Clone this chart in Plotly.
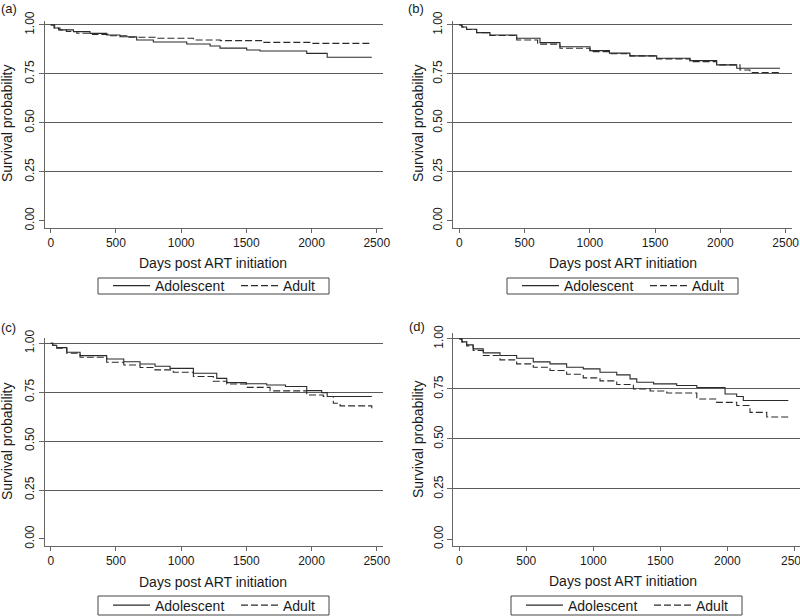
import plotly.graph_objects as go

W, H = 800, 616

# ---------------- data ----------------
tick_days = [0, 500, 1000, 1500, 2000, 2500]
tick_surv = [0.0, 0.25, 0.5, 0.75, 1.0]
tick_surv_text = ["0.00", "0.25", "0.50", "0.75", "1.00"]
grid_surv = [0.25, 0.5, 0.75, 1.0]
series_names = ["Adolescent", "Adult"]
panel_labels = ["(a)", "(b)", "(c)", "(d)"]

a_adol_days = [0, 30, 71, 174, 301, 429, 531, 659, 787, 1043, 1222, 1298, 1503, 1605, 1963, 2120, 2462]
a_adol_surv = [1.0, 0.985, 0.975, 0.966, 0.957, 0.949, 0.94, 0.923, 0.913, 0.903, 0.893, 0.882, 0.872, 0.867, 0.855, 0.835, 0.835]
a_adult_days = [0, 25, 60, 120, 200, 320, 450, 583, 800, 1094, 1300, 1630, 2000, 2462]
a_adult_surv = [1.0, 0.985, 0.975, 0.967, 0.958, 0.952, 0.945, 0.937, 0.932, 0.923, 0.92, 0.911, 0.906, 0.906]

b_adol_days = [0, 20, 56, 133, 235, 440, 618, 771, 1001, 1150, 1307, 1512, 1767, 1971, 2125, 2456]
b_adol_surv = [1.0, 0.99, 0.978, 0.961, 0.949, 0.932, 0.91, 0.889, 0.869, 0.856, 0.842, 0.83, 0.818, 0.796, 0.779, 0.779]
b_adult_days = [0, 20, 56, 133, 235, 440, 600, 771, 1001, 1150, 1307, 1512, 1767, 1971, 2150, 2226, 2443]
b_adult_surv = [1.0, 0.99, 0.977, 0.96, 0.946, 0.923, 0.902, 0.881, 0.864, 0.853, 0.842, 0.827, 0.813, 0.796, 0.77, 0.757, 0.747]

c_adol_days = [0, 15, 46, 123, 225, 429, 560, 685, 800, 915, 1094, 1273, 1350, 1500, 1656, 1800, 1963, 2078, 2120, 2462]
c_adol_surv = [1.0, 0.99, 0.978, 0.954, 0.937, 0.92, 0.906, 0.894, 0.883, 0.872, 0.847, 0.821, 0.799, 0.793, 0.787, 0.779, 0.758, 0.748, 0.728, 0.728]
c_adult_days = [0, 15, 46, 123, 225, 429, 560, 685, 800, 940, 1094, 1247, 1350, 1500, 1682, 1963, 2090, 2167, 2219, 2462]
c_adult_surv = [1.0, 0.99, 0.975, 0.949, 0.929, 0.903, 0.889, 0.876, 0.864, 0.852, 0.83, 0.806, 0.792, 0.775, 0.757, 0.736, 0.728, 0.694, 0.68, 0.668]

d_adol_days = [0, 20, 55, 104, 179, 304, 428, 552, 677, 801, 925, 1050, 1175, 1274, 1324, 1450, 1622, 1772, 1983, 2070, 2119, 2455]
d_adol_surv = [1.0, 0.985, 0.97, 0.95, 0.93, 0.917, 0.903, 0.885, 0.875, 0.858, 0.85, 0.833, 0.82, 0.80, 0.783, 0.775, 0.767, 0.757, 0.725, 0.712, 0.692, 0.692]
d_adult_days = [0, 20, 55, 104, 179, 304, 428, 552, 677, 801, 925, 1050, 1175, 1299, 1424, 1548, 1772, 1921, 2070, 2169, 2294, 2455]
d_adult_surv = [1.0, 0.985, 0.965, 0.942, 0.917, 0.895, 0.875, 0.858, 0.842, 0.823, 0.805, 0.79, 0.772, 0.75, 0.74, 0.73, 0.70, 0.683, 0.667, 0.633, 0.61, 0.608]

# ---------------- layout geometry (pixels) ----------------
FONT = "Liberation Sans, Arial, sans-serif"
LINE_COL = "#2b2b2b"
GRID_COL = "#5a5a5a"
AXIS_COL = "#666666"
TEXT_COL = "#1a1a1a"

panels = [
    dict(adol=(a_adol_days, a_adol_surv), adult=(a_adult_days, a_adult_surv),
         xpx=(45, 383), ypx=(21, 227.7), xr=(-44, 2548), yr=(-0.0358, 1.0204),
         lab=(8.5, 8), ytitle=(7, 123), xtitle=(213.3, 263), box=(98, 278, 329, 294)),
    dict(adol=(b_adol_days, b_adol_surv), adult=(b_adult_days, b_adult_surv),
         xpx=(453, 791.7), ypx=(21, 227.7), xr=(-48, 2546), yr=(-0.0358, 1.0204),
         lab=(415.5, 8), ytitle=(418, 123), xtitle=(622.7, 263), box=(507, 278, 738, 294)),
    dict(adol=(c_adol_days, c_adol_surv), adult=(c_adult_days, c_adult_surv),
         xpx=(45, 383), ypx=(337.7, 546), xr=(-44, 2548), yr=(-0.0358, 1.0286),
         lab=(8, 327), ytitle=(7, 441), xtitle=(213.3, 581.7), box=(98, 596, 329, 615)),
    dict(adol=(d_adol_days, d_adol_surv), adult=(d_adult_days, d_adult_surv),
         xpx=(453.3, 800), ypx=(333.3, 546), xr=(-44.5, 2542), yr=(-0.035, 1.028),
         lab=(416.5, 326), ytitle=(418, 439), xtitle=(622.7, 580.7), box=(511, 596, 742, 615)),
]

fig = go.Figure()
layout = dict(
    width=W, height=H, margin=dict(l=0, r=0, t=0, b=0, autoexpand=False),
    paper_bgcolor="white", plot_bgcolor="white",
    font=dict(family=FONT, size=12, color=TEXT_COL),
    annotations=[], shapes=[],
)

for i, p in enumerate(panels):
    n = i + 1
    sfx = "" if n == 1 else str(n)
    xa, ya = "x" + sfx, "y" + sfx
    leg = "legend" + sfx
    for (days, surv), name, dash in ((p["adol"], series_names[0], "solid"),
                                     (p["adult"], series_names[1], "7px,3px")):
        fig.add_trace(go.Scatter(
            x=days, y=surv, mode="lines", name=name, line_shape="hv",
            line=dict(color=LINE_COL, width=1.1, dash=dash),
            xaxis=xa, yaxis=ya, legend=leg, hoverinfo="skip"))
    # empty helper trace so the grid-carrying overlay axis is drawn
    fig.add_trace(go.Scatter(x=[None], y=[None], mode="lines", showlegend=False,
                             xaxis=xa, yaxis="y" + str(n + 4), hoverinfo="skip"))
    x0, x1 = p["xpx"]
    yt, yb = p["ypx"]
    xdom = [x0 / W, x1 / W]
    ydom = [1 - yb / H, 1 - yt / H]
    layout["xaxis" + sfx] = dict(
        domain=xdom, range=list(p["xr"]), anchor=ya,
        tickmode="array", tickvals=tick_days, ticks="outside", ticklen=4,
        tickcolor=AXIS_COL, showline=True, linecolor=AXIS_COL, linewidth=1,
        showgrid=False, zeroline=False, tickfont=dict(size=12, color=TEXT_COL),
        ticklabeloverflow="allow", fixedrange=True)
    layout["yaxis" + sfx] = dict(
        domain=ydom, range=list(p["yr"]), anchor=xa,
        tickmode="array", tickvals=tick_surv, ticktext=tick_surv_text,
        tickangle=-90, ticks="outside", ticklen=5, tickcolor=AXIS_COL,
        showline=True, linecolor=AXIS_COL, linewidth=1,
        showgrid=False, zeroline=False, tickfont=dict(size=12, color=TEXT_COL),
        ticklabeloverflow="allow", fixedrange=True)
    layout["yaxis" + str(n + 4)] = dict(
        domain=ydom, range=list(p["yr"]), anchor=xa, overlaying=ya,
        tickmode="array", tickvals=grid_surv, showticklabels=False, ticks="",
        showline=False, showgrid=True, gridcolor=GRID_COL, gridwidth=1,
        zeroline=False, fixedrange=True)
    bx0, by0, bx1, by1 = p["box"]
    layout["shapes"].append(dict(type="rect", xref="paper", yref="paper",
                                 x0=bx0 / W, x1=bx1 / W, y0=1 - by1 / H, y1=1 - by0 / H,
                                 line=dict(color="#444444", width=1), layer="above"))
    layout[leg] = dict(
        orientation="h", x=(bx0 + 10) / W, y=1 - ((by0 + by1) / 2) / H,
        xanchor="left", yanchor="middle",
        borderwidth=0, bgcolor="rgba(0,0,0,0)",
        font=dict(size=14, color=TEXT_COL), itemwidth=37,
        entrywidth=76, entrywidthmode="pixels")
    ann = layout["annotations"]
    ann.append(dict(text=panel_labels[i], x=p["lab"][0] / W, y=1 - p["lab"][1] / H,
                    xref="paper", yref="paper", showarrow=False,
                    xanchor="center", yanchor="middle", font=dict(size=13)))
    ann.append(dict(text="Survival probability", x=p["ytitle"][0] / W,
                    y=1 - p["ytitle"][1] / H, xref="paper", yref="paper",
                    showarrow=False, textangle=-90, xanchor="center",
                    yanchor="middle", font=dict(size=14)))
    ann.append(dict(text="Days post ART initiation", x=p["xtitle"][0] / W,
                    y=1 - p["xtitle"][1] / H, xref="paper", yref="paper",
                    showarrow=False, xanchor="center", yanchor="middle",
                    font=dict(size=14)))

fig.update_layout(**layout)
fig.write_html("out.html", config={"displayModeBar": False},
               post_script="document.body.style.margin='0px';"
                           "document.body.style.overflow='hidden';")
